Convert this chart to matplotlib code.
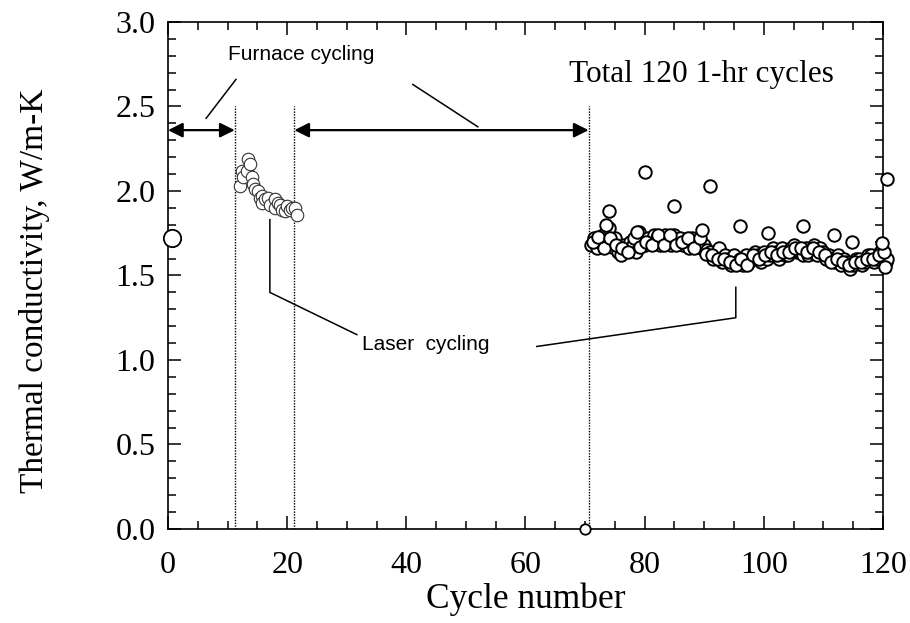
import matplotlib
matplotlib.use("Agg")
import matplotlib.pyplot as plt
from matplotlib.ticker import MultipleLocator

# Initial (as-sprayed) measurement and the broken-coating point
initial_cycle = [0.7]
initial_k = [1.72]
failed_cycle = [70.0]
failed_k = [0.0]

# First laser-cycling block (cycles ~12-22)
laser_a_cycle = [12.1, 12.4, 12.6, 13.3, 13.4, 13.8, 14.1, 14.3, 14.6, 15.1,
                 15.4, 15.8, 15.8, 16.3, 16.8, 17.2, 17.9, 17.9, 18.4, 18.8,
                 19.2, 19.6, 20.0, 20.4, 20.8, 21.3, 21.6]
laser_a_k = [2.03, 2.12, 2.08, 2.12, 2.19, 2.16, 2.08, 2.04, 2.01, 2.00,
             1.96, 1.97, 1.93, 1.95, 1.96, 1.92, 1.95, 1.90, 1.93, 1.92,
             1.89, 1.88, 1.91, 1.89, 1.90, 1.90, 1.86]

# Second laser-cycling block (cycles 71-121)
laser_b_cycle = [
    71.0, 71.5, 72.0, 72.5, 73.0, 73.5, 74.0, 74.5, 75.0, 75.5,
    76.0, 76.5, 77.0, 77.5, 78.0, 78.5, 79.0, 79.5, 80.0, 80.5,
    81.0, 81.5, 82.0, 82.5, 83.0, 83.5, 84.0, 84.5, 85.0, 85.5,
    86.0, 86.5, 87.0, 87.5, 88.0, 88.5, 89.0, 89.5, 90.0, 90.5,
    91.0, 91.5, 92.0, 92.5, 93.0, 93.5, 94.0, 94.5, 95.0, 95.5,
    96.0, 96.5, 97.0, 97.5, 98.0, 98.5, 99.0, 99.5, 100.0, 100.5,
    101.0, 101.5, 102.0, 102.5, 103.0, 103.5, 104.0, 104.5, 105.0, 105.5,
    106.0, 106.5, 107.0, 107.5, 108.0, 108.5, 109.0, 109.5, 110.0, 110.5,
    111.0, 111.5, 112.0, 112.5, 113.0, 113.5, 114.0, 114.5, 115.0, 115.5,
    116.0, 116.5, 117.0, 117.5, 118.0, 118.5, 119.0, 119.5, 120.0, 120.5,
    120.6, 120.4]
laser_b_k = [
    1.68, 1.72, 1.66, 1.70, 1.74, 1.69, 1.78, 1.67, 1.72, 1.64,
    1.62, 1.68, 1.66, 1.70, 1.68, 1.64, 1.76, 1.70, 1.68, 1.72,
    1.70, 1.74, 1.72, 1.68, 1.70, 1.74, 1.72, 1.68, 1.74, 1.70,
    1.72, 1.68, 1.70, 1.66, 1.72, 1.68, 1.70, 1.66, 1.68, 1.65,
    1.64, 1.60, 1.62, 1.66, 1.58, 1.62, 1.60, 1.56, 1.62, 1.58,
    1.60, 1.56, 1.62, 1.58, 1.60, 1.64, 1.62, 1.58, 1.64, 1.60,
    1.62, 1.66, 1.64, 1.60, 1.66, 1.62, 1.62, 1.66, 1.68, 1.64,
    1.64, 1.62, 1.66, 1.62, 1.64, 1.68, 1.62, 1.66, 1.64, 1.60,
    1.62, 1.60, 1.58, 1.62, 1.56, 1.60, 1.58, 1.54, 1.56, 1.60,
    1.60, 1.56, 1.58, 1.62, 1.62, 1.58, 1.60, 1.64, 1.62, 1.58,
    1.60, 1.55]

# Repeat readings within the same cycles
laser_b_repeat_cycle = [
    71.25, 72.25, 73.25, 74.25, 75.25, 76.25, 77.25, 78.25, 79.25, 80.25,
    81.25, 82.25, 83.25, 84.25, 85.25, 86.25, 87.25, 88.25, 89.25, 90.25,
    91.25, 92.25, 93.25, 94.25, 95.25, 96.25, 97.25, 98.25, 99.25, 100.25,
    101.25, 102.25, 103.25, 104.25, 105.25, 106.25, 107.25, 108.25, 109.25,
    110.25, 111.25, 112.25, 113.25, 114.25, 115.25, 116.25, 117.25, 118.25,
    119.25, 120.25]
laser_b_repeat_k = [
    1.70, 1.73, 1.66, 1.72, 1.68, 1.66, 1.64, 1.72, 1.67, 1.70,
    1.68, 1.74, 1.68, 1.74, 1.68, 1.70, 1.72, 1.66, 1.72, 1.63,
    1.62, 1.60, 1.60, 1.58, 1.56, 1.60, 1.56, 1.62, 1.60, 1.62,
    1.64, 1.62, 1.64, 1.64, 1.66, 1.66, 1.64, 1.66, 1.64,
    1.62, 1.58, 1.60, 1.58, 1.56, 1.58, 1.58, 1.60, 1.60,
    1.62, 1.64]

# Scattered high readings during the second block
outlier_cycle = [73.5, 74.0, 78.7, 80.0, 85.0, 89.6, 91.0, 96.0, 100.7,
                 106.5, 111.7, 114.8, 119.8, 120.6]
outlier_k = [1.80, 1.88, 1.76, 2.11, 1.91, 1.77, 2.03, 1.79, 1.75,
             1.79, 1.74, 1.70, 1.69, 2.07]

# Boundaries between furnace and laser cycling
boundary_cycles = [11.2, 21.2, 70.6]
boundary_top = 2.5
arrow_level = 2.36

x_ticks = [0, 20, 40, 60, 80, 100, 120]
y_ticks = [0.0, 0.5, 1.0, 1.5, 2.0, 2.5, 3.0]

serif = "Liberation Serif"
sans = "Liberation Sans"

fig = plt.figure(figsize=(9.1, 6.23), dpi=100)
ax = fig.add_axes([0.1846, 0.1509, 0.7857, 0.8138])

ax.set_xlim(0, 120)
ax.set_ylim(0, 3.0)
ax.set_xticks(x_ticks)
ax.set_yticks(y_ticks)
ax.set_xticklabels([str(v) for v in x_ticks], fontfamily=serif, fontsize=23)
ax.set_yticklabels([f"{v:.1f}" for v in y_ticks], fontfamily=serif, fontsize=23)
ax.xaxis.set_minor_locator(MultipleLocator(5))
ax.yaxis.set_minor_locator(MultipleLocator(0.1))
ax.tick_params(which="both", direction="in", top=True, right=True, width=1.1)
ax.tick_params(which="major", length=9.5)
ax.tick_params(which="minor", length=5.5)
ax.tick_params(axis="x", which="major", pad=16)
ax.tick_params(axis="y", which="major", pad=9)
for sp in ax.spines.values():
    sp.set_linewidth(1.2)

ax.set_xlabel("Cycle number", fontfamily=serif, fontsize=25.5, labelpad=2)
ax.set_ylabel("Thermal conductivity, W/m-K", fontfamily=serif, fontsize=24)
ax.yaxis.set_label_coords(-0.165, 0.47)

# Dotted boundaries
ax.vlines(boundary_cycles, 0, boundary_top, colors="black",
          linestyles=(0, (1, 1)), linewidth=1.0)

# Furnace-cycling spans
arrow_kw = dict(arrowstyle="<|-|>", color="black", lw=1.6, mutation_scale=22,
                shrinkA=0, shrinkB=0)
ax.annotate("", xy=(boundary_cycles[0], arrow_level), xytext=(0, arrow_level),
            arrowprops=arrow_kw)
ax.annotate("", xy=(boundary_cycles[2], arrow_level),
            xytext=(boundary_cycles[1], arrow_level), arrowprops=arrow_kw)

ax.text(22.3, 2.81, "Furnace cycling", fontfamily=sans, fontsize=15,
        ha="center", va="center")
ax.plot([6.4, 11.4], [2.43, 2.66], color="black", lw=1.1)
ax.plot([41.1, 52.0], [2.63, 2.38], color="black", lw=1.1)

ax.text(43.3, 1.09, "Laser  cycling", fontfamily=sans, fontsize=15,
        ha="center", va="center")
ax.plot([17.1, 17.1, 31.7], [1.83, 1.40, 1.15], color="black", lw=1.1)
ax.plot([61.9, 95.3, 95.3], [1.08, 1.25, 1.43], color="black", lw=1.1)

ax.text(89.5, 2.69, "Total 120 1-hr cycles", fontfamily=serif, fontsize=22.5,
        ha="center", va="center")

# Data
ax.plot(laser_a_cycle, laser_a_k, "o", mfc="white", mec="#333333", ms=9,
        mew=0.8, clip_on=False, zorder=3)
ax.plot(laser_b_cycle, laser_b_k, "o", mfc="white", mec="black", ms=9,
        mew=1.4, clip_on=False, zorder=3)
ax.plot(laser_b_repeat_cycle, laser_b_repeat_k, "o", mfc="white", mec="black",
        ms=9, mew=1.4, clip_on=False, zorder=3)
ax.plot(outlier_cycle, outlier_k, "o", mfc="white", mec="black", ms=9,
        mew=1.4, clip_on=False, zorder=3)
ax.plot(initial_cycle, initial_k, "o", mfc="white", mec="black", ms=12.5,
        mew=1.3, clip_on=False, zorder=3)
ax.plot(failed_cycle, failed_k, "o", mfc="white", mec="black", ms=7.5,
        mew=1.3, clip_on=False, zorder=3)

fig.savefig("out.png", dpi=100)
